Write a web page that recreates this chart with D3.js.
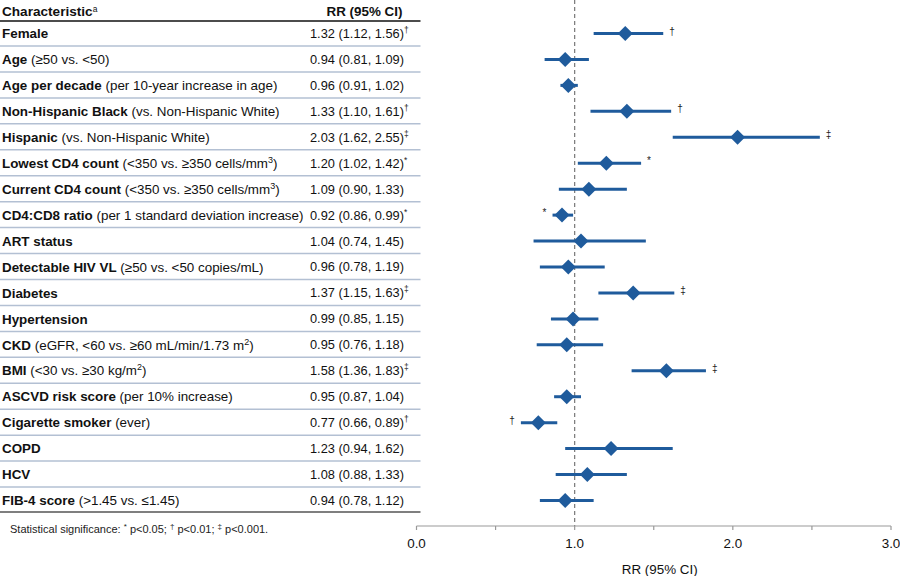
<!DOCTYPE html>
<html>
<head>
<meta charset="utf-8">
<script src="https://cdn.jsdelivr.net/npm/d3@7"></script>
<style>
  html, body { margin: 0; padding: 0; background: #fff; }
  svg { display: block; font-family: "Liberation Sans", Arial, Helvetica, sans-serif; }
</style>
</head>
<body>
<svg id="chart" width="900" height="576"></svg>
<script>
// ---- Data ----
const names = ["Female", "Age", "Age per decade", "Non-Hispanic Black", "Hispanic",
  "Lowest CD4 count", "Current CD4 count", "CD4:CD8 ratio", "ART status",
  "Detectable HIV VL", "Diabetes", "Hypertension", "CKD", "BMI",
  "ASCVD risk score", "Cigarette smoker", "COPD", "HCV", "FIB-4 score"];
const details = ["", "(≥50 vs. <50)", "(per 10-year increase in age)",
  "(vs. Non-Hispanic White)", "(vs. Non-Hispanic White)",
  "(<350 vs. ≥350 cells/mm^3)", "(<350 vs. ≥350 cells/mm^3)",
  "(per 1 standard deviation increase)", "", "(≥50 vs. <50 copies/mL)", "", "",
  "(eGFR, <60 vs. ≥60 mL/min/1.73 m^2)", "(<30 vs. ≥30 kg/m^2)",
  "(per 10% increase)", "(ever)", "", "", "(>1.45 vs. ≤1.45)"];
const rr    = [1.32, 0.94, 0.96, 1.33, 2.03, 1.20, 1.09, 0.92, 1.04, 0.96, 1.37, 0.99, 0.95, 1.58, 0.95, 0.77, 1.23, 1.08, 0.94];
const lower = [1.12, 0.81, 0.91, 1.10, 1.62, 1.02, 0.90, 0.86, 0.74, 0.78, 1.15, 0.85, 0.76, 1.36, 0.87, 0.66, 0.94, 0.88, 0.78];
const upper = [1.56, 1.09, 1.02, 1.61, 2.55, 1.42, 1.33, 0.99, 1.45, 1.19, 1.63, 1.15, 1.18, 1.83, 1.04, 0.89, 1.62, 1.33, 1.12];
const sig   = ["†", "", "", "†", "‡", "*", "", "*", "", "", "‡", "", "", "‡", "", "†", "", "", ""];
const xTicks = [0, 1, 2, 3];
const xMinorTicks = [0.5, 1.5, 2.5];

// ---- Setup ----
const svg = d3.select("#chart");
const blue = "#1f5b9c";
const fsLabel = 13.4;
const fsVal = 12.8;
const fsAxis = 13.4;

const x = d3.scaleLinear().domain([0, 3]).range([416.5, 891]);
const y = d3.scalePoint().domain(d3.range(names.length)).range([33.5, 500.5]);

// Table header
const hdr = svg.append("text").attr("x", 2).attr("y", 11).attr("dy", "0.35em")
  .attr("font-size", 13.6).attr("font-weight", "bold").attr("fill", "#111");
hdr.append("tspan").text("Characteristic");
hdr.append("tspan").attr("font-size", 8.5).attr("dy", "-0.5em").attr("font-weight", "normal").text("a");

svg.append("text").attr("x", 364.5).attr("y", 11).attr("dy", "0.35em")
  .attr("text-anchor", "middle").attr("font-size", 13.4).attr("font-weight", "bold").attr("fill", "#111")
  .text("RR (95% CI)");

svg.append("line").attr("x1", 0).attr("x2", 420.5).attr("y1", 21).attr("y2", 21)
  .attr("stroke", "#111").attr("stroke-width", 1.5);

// Row separators
d3.range(names.length - 1).forEach(i => {
  svg.append("line").attr("x1", 0).attr("x2", 420.5)
    .attr("y1", y(i) + 12.5).attr("y2", y(i) + 12.5)
    .attr("stroke", "#b3c0d3").attr("stroke-width", 1.5);
});
svg.append("line").attr("x1", 0).attr("x2", 420.5).attr("y1", 512).attr("y2", 512)
  .attr("stroke", "#555").attr("stroke-width", 1.5);

// Row labels (with ^x superscripts)
function addRich(textSel, str) {
  const parts = str.split(/\^(.)/);
  let pendingDy = 0;
  parts.forEach((p, k) => {
    if (k % 2 === 1) {
      textSel.append("tspan").attr("font-size", 9).attr("dy", -5).text(p);
      pendingDy = 5;
    } else if (p.length) {
      const ts = textSel.append("tspan").text(p);
      if (pendingDy) { ts.attr("dy", pendingDy); pendingDy = 0; }
    }
  });
}

names.forEach((n, i) => {
  const t = svg.append("text").attr("x", 2).attr("y", y(i)).attr("dy", "0.35em")
    .attr("font-size", fsLabel).attr("fill", "#111");
  t.append("tspan").attr("font-weight", "bold").text(n);
  if (details[i]) {
    t.append("tspan").text(" ");
    addRich(t, details[i]);
  }
  const v = svg.append("text").attr("x", 310).attr("y", y(i)).attr("dy", "0.35em")
    .attr("font-size", fsVal).attr("fill", "#111");
  v.append("tspan").text(`${rr[i].toFixed(2)} (${lower[i].toFixed(2)}, ${upper[i].toFixed(2)})`);
  if (sig[i]) v.append("tspan").attr("font-size", 8.5).attr("dy", -5).attr("fill", "#222").text(sig[i]);
});

// Footnote
const fn = svg.append("text").attr("x", 10).attr("y", 529).attr("dy", "0.35em")
  .attr("font-size", 11).attr("fill", "#222");
fn.append("tspan").text("Statistical significance: ");
fn.append("tspan").attr("font-size", 8).attr("dy", -4).text("*");
fn.append("tspan").attr("dy", 4).text(" p<0.05; ");
fn.append("tspan").attr("font-size", 8).attr("dy", -4).text("†");
fn.append("tspan").attr("dy", 4).text(" p<0.01; ");
fn.append("tspan").attr("font-size", 8).attr("dy", -4).text("‡");
fn.append("tspan").attr("dy", 4).text(" p<0.001.");

// Reference line at 1.0
svg.append("line").attr("x1", x(1)).attr("x2", x(1)).attr("y1", 0).attr("y2", 526)
  .attr("stroke", "#777").attr("stroke-width", 1.2).attr("stroke-dasharray", "4,3");

// Axis
const axisG = svg.append("g").attr("transform", "translate(0,526)");
axisG.append("line").attr("x1", x(0)).attr("x2", x(3)).attr("stroke", "#999").attr("stroke-width", 1.2);
axisG.selectAll(".tk").data(xTicks.concat(xMinorTicks)).enter().append("line")
  .attr("x1", d => x(d)).attr("x2", d => x(d)).attr("y1", 0).attr("y2", 4)
  .attr("stroke", "#999").attr("stroke-width", 1.2);
axisG.selectAll(".tl").data(xTicks).enter().append("text")
  .attr("x", d => x(d)).attr("y", 17).attr("dy", "0.35em").attr("text-anchor", "middle")
  .attr("font-size", fsAxis).attr("fill", "#111").text(d => d3.format(".1f")(d));
svg.append("text").attr("x", x(1.5) + 6).attr("y", 569).attr("dy", "0.35em").attr("text-anchor", "middle")
  .attr("font-size", fsAxis).attr("fill", "#111").text("RR (95% CI)");

// CI lines & diamonds
const rows = svg.append("g").selectAll("g").data(names.map((n, i) => i)).enter().append("g");
rows.append("line").attr("x1", i => x(lower[i])).attr("x2", i => x(upper[i]))
  .attr("y1", i => y(i)).attr("y2", i => y(i)).attr("stroke", blue).attr("stroke-width", 3);
rows.append("path")
  .attr("d", i => {
    const cx = x(rr[i]), cy = y(i), w = 7.5, h = 7.5;
    return `M${cx - w},${cy}L${cx},${cy - h}L${cx + w},${cy}L${cx},${cy + h}Z`;
  }).attr("fill", blue);
rows.filter(i => sig[i]).append("text")
  .attr("x", i => rr[i] < 1 ? x(lower[i]) - 6 : x(upper[i]) + 6)
  .attr("text-anchor", i => rr[i] < 1 ? "end" : "start")
  .attr("y", i => y(i)).attr("dy", "0.1em").attr("font-size", 10).attr("fill", "#222")
  .text(i => sig[i]);
</script>
</body>
</html>
